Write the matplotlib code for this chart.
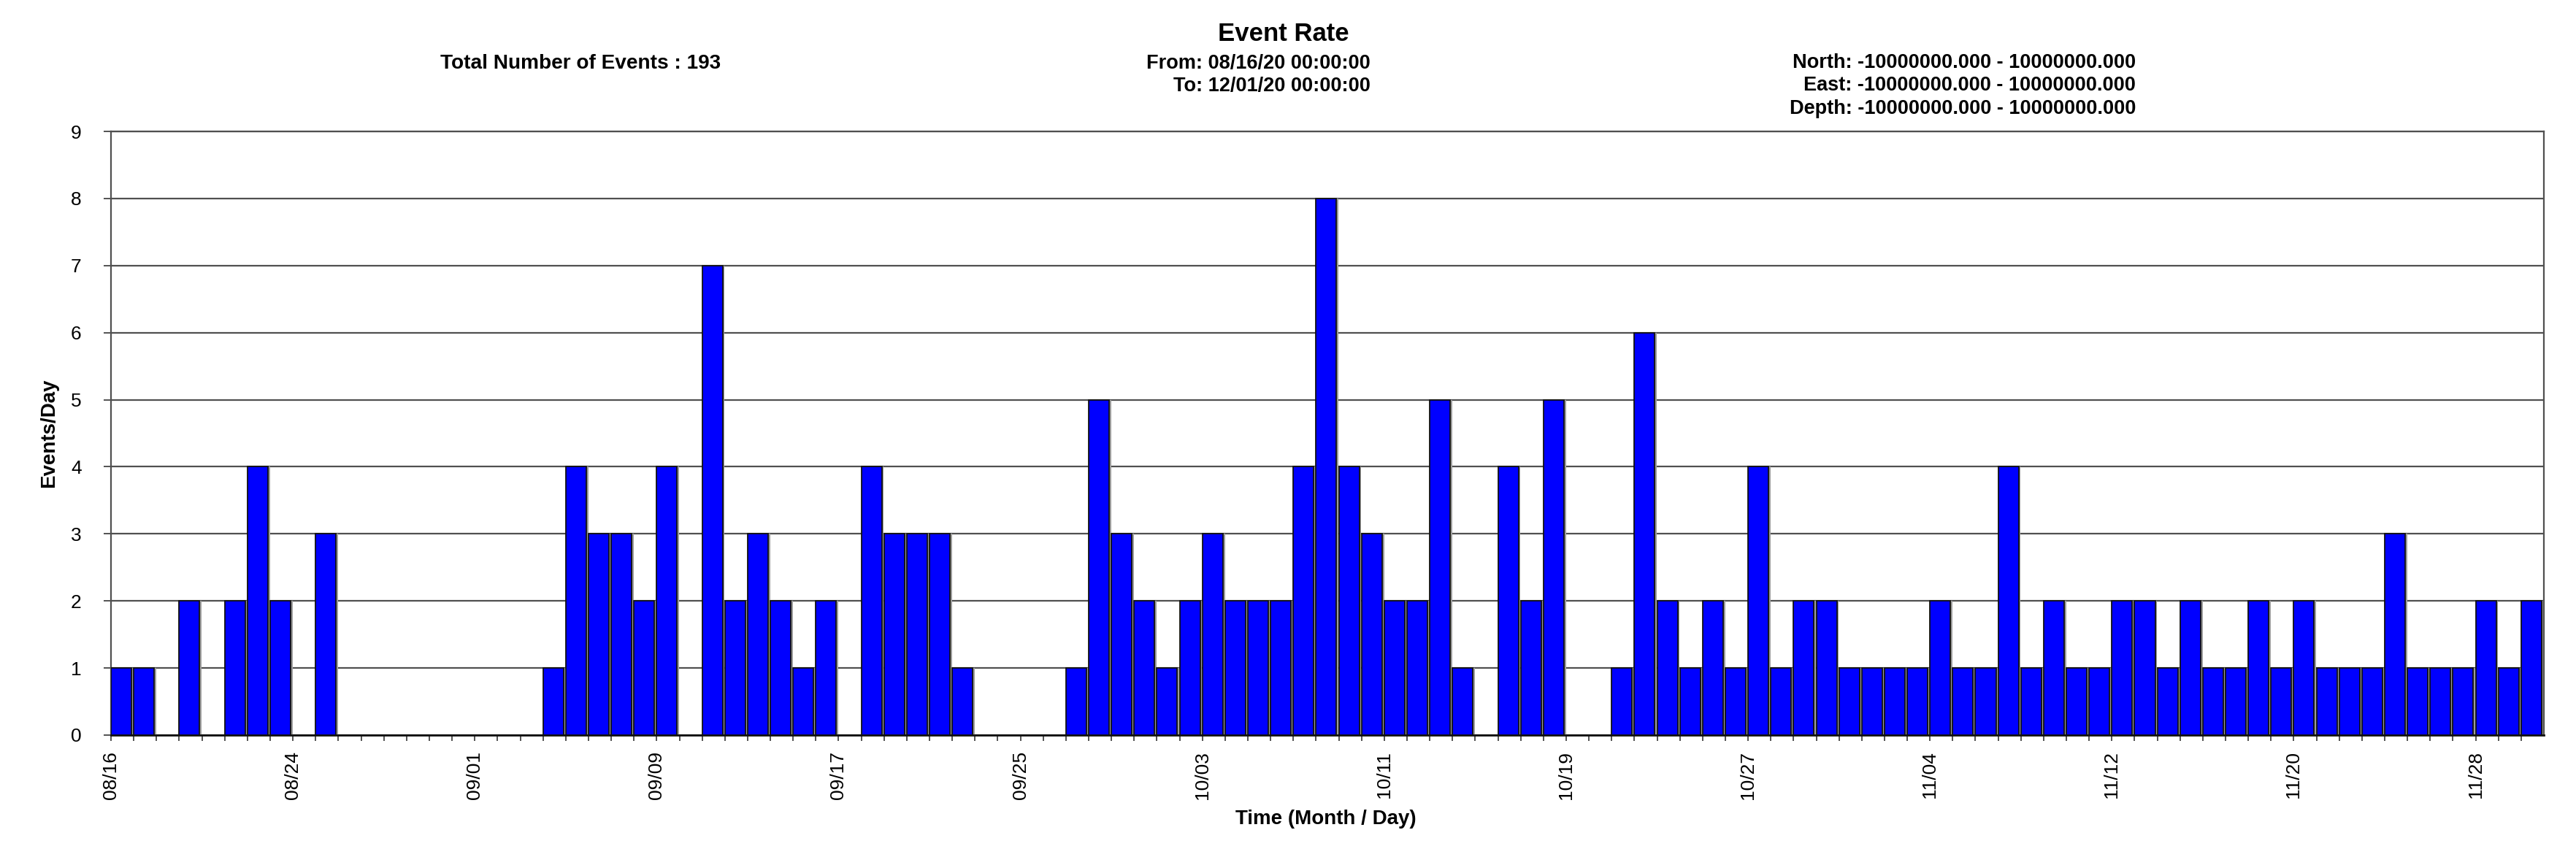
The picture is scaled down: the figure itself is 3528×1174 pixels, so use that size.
import matplotlib
matplotlib.use("Agg")
import matplotlib.pyplot as plt
import pandas as pd

plt.rcParams['font.family'] = ['Liberation Sans', 'DejaVu Sans']

# events per day, 08/16/20 .. 11/30/20
counts = [1, 1, 0, 2, 0, 2, 4, 2, 0, 3,
          0, 0, 0, 0, 0, 0, 0, 0, 0, 1,
          4, 3, 3, 2, 4, 0, 7, 2, 3, 2,
          1, 2, 0, 4, 3, 3, 3, 1, 0, 0,
          0, 0, 1, 5, 3, 2, 1, 2, 3, 2,
          2, 2, 4, 8, 4, 3, 2, 2, 5, 1,
          0, 4, 2, 5, 0, 0, 1, 6, 2, 1,
          2, 1, 4, 1, 2, 2, 1, 1, 1, 1,
          2, 1, 1, 4, 1, 2, 1, 1, 2, 2,
          1, 2, 1, 1, 2, 1, 2, 1, 1, 1,
          3, 1, 1, 1, 2, 1, 2]
tick_labels = ['08/16', '08/24', '09/01', '09/09', '09/17', '09/25', '10/03',
               '10/11', '10/19', '10/27', '11/04', '11/12', '11/20', '11/28']
y_ticks = [0, 1, 2, 3, 4, 5, 6, 7, 8, 9]

days = pd.date_range('2020-08-16', periods=len(counts), freq='D')
one_day = pd.Timedelta(days=1)

W, H = 3528, 1174
fig = plt.figure(figsize=(W / 100, H / 100), dpi=100)
ax = fig.add_axes([152 / W, 1 - 1007 / H, (3484 - 152) / W, (1007 - 180) / H])

# no outline for empty days
edge_w = [1.3 if c else 0 for c in counts]

# grey shadow, then the blue bars
ax.bar(days + one_day * 0.09, counts, width=0.9, align='edge', color='#9c9c9c',
       linewidth=0, zorder=2)
ax.bar(days, counts, width=0.9, align='edge', color='#0000ff', edgecolor='#111111',
       linewidth=edge_w, zorder=3)

ax.set_xlim(days[0], days[-1] + one_day)
ax.set_ylim(0, 9)
ax.set_yticks(y_ticks)
ax.set_xticks(days[::8])
ax.set_xticklabels(tick_labels, rotation=90, fontsize=19)
ax.set_xticks(days, minor=True)
ax.tick_params(axis='y', labelsize=19, length=7, width=1.3, color='#444444', pad=22)
ax.tick_params(axis='x', which='both', length=6, width=1.3, color='#444444', pad=10)

ax.yaxis.grid(True, color='#505050', linewidth=1.6, zorder=0)
ax.set_axisbelow(True)
for s in ['left', 'right', 'top']:
    ax.spines[s].set_color('#505050')
    ax.spines[s].set_linewidth(1.6)
ax.spines['bottom'].set_color('#111111')
ax.spines['bottom'].set_linewidth(2)


def ftext(x, y, s, **kw):
    fig.text(x / W, 1 - y / H, s, **kw)


ftext(1758, 46, 'Event Rate', fontsize=25, fontweight='bold', ha='center', va='center')
ftext(603, 87, 'Total Number of Events : 193', fontsize=20.2, fontweight='bold',
      ha='left', va='center')
ftext(1877, 87, 'From: 08/16/20 00:00:00', fontsize=19.5, fontweight='bold',
      ha='right', va='center')
ftext(1877, 118, 'To: 12/01/20 00:00:00', fontsize=19.5, fontweight='bold',
      ha='right', va='center')
ftext(2925, 86, 'North: -10000000.000 - 10000000.000', fontsize=19.5, fontweight='bold',
      ha='right', va='center')
ftext(2925, 117, 'East: -10000000.000 - 10000000.000', fontsize=19.5, fontweight='bold',
      ha='right', va='center')
ftext(2925, 149, 'Depth: -10000000.000 - 10000000.000', fontsize=19.5, fontweight='bold',
      ha='right', va='center')

ftext(67, 593, 'Events/Day', fontsize=20, fontweight='bold', rotation=90,
      ha='center', va='center')
ftext(1816, 1122, 'Time (Month / Day)', fontsize=20, fontweight='bold',
      ha='center', va='center')

fig.savefig('out.png', dpi=100)
